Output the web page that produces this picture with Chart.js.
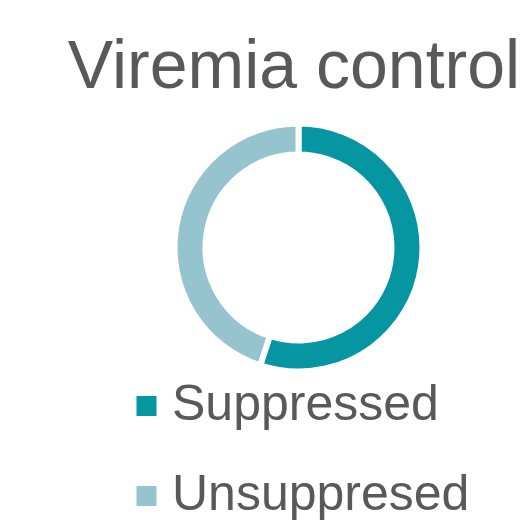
<!DOCTYPE html>
<html>
<head>
<meta charset="utf-8">
<script src="https://cdn.jsdelivr.net/npm/chart.js@4/dist/chart.umd.min.js"></script>
<style>
  html, body { margin: 0; padding: 0; background: #ffffff; }
  #wrap { width: 532px; height: 528px; }
</style>
</head>
<body>
<div id="wrap"><canvas id="c" width="532" height="528"></canvas></div>
<script>
const chartTitle = "Viremia control";
const categories = ["Suppressed", "Unsuppresed"];
const shares = [55, 45];
const sliceColors = ["#0596A2", "#95C4CF"];

const textColor = "#595959";
const fontFamily = "'Liberation Sans', Arial, Helvetica, sans-serif";

// Title drawn without the width limit of the built-in title box
const titlePlugin = {
  id: 'freeTitle',
  afterDraw(chart) {
    const ctx = chart.ctx;
    ctx.save();
    ctx.font = "normal 68px " + fontFamily;
    ctx.fillStyle = textColor;
    ctx.textAlign = 'center';
    ctx.textBaseline = 'alphabetic';
    ctx.fillText(chartTitle, 294, 88);
    ctx.restore();
  }
};

new Chart(document.getElementById('c'), {
  type: 'doughnut',
  data: {
    labels: categories,
    datasets: [{
      data: shares,
      backgroundColor: sliceColors,
      borderColor: '#ffffff',
      borderWidth: 6,
      hoverOffset: 0
    }]
  },
  options: {
    responsive: false,
    devicePixelRatio: 1,
    animation: false,
    radius: 124,
    cutout: '75%',
    layout: { padding: { top: 154, left: 106, right: 41, bottom: 0 } },
    plugins: {
      tooltip: { enabled: false },
      title: { display: false },
      legend: {
        display: true,
        position: 'bottom',
        align: 'start',
        labels: {
          color: textColor,
          font: { family: fontFamily, size: 50, weight: 'normal' },
          usePointStyle: true,
          pointStyle: 'rect',
          boxWidth: 1,
          boxHeight: 20,
          padding: 40,
          generateLabels: (chart) => {
            const ds = chart.data.datasets[0];
            return chart.data.labels.map((label, i) => ({
              text: label,
              fillStyle: ds.backgroundColor[i],
              strokeStyle: 'rgba(0,0,0,0)',
              lineWidth: 0,
              pointStyle: 'rect',
              fontColor: textColor,
              hidden: false,
              index: i
            }));
          }
        }
      }
    }
  },
  plugins: [titlePlugin]
});
</script>
</body>
</html>
